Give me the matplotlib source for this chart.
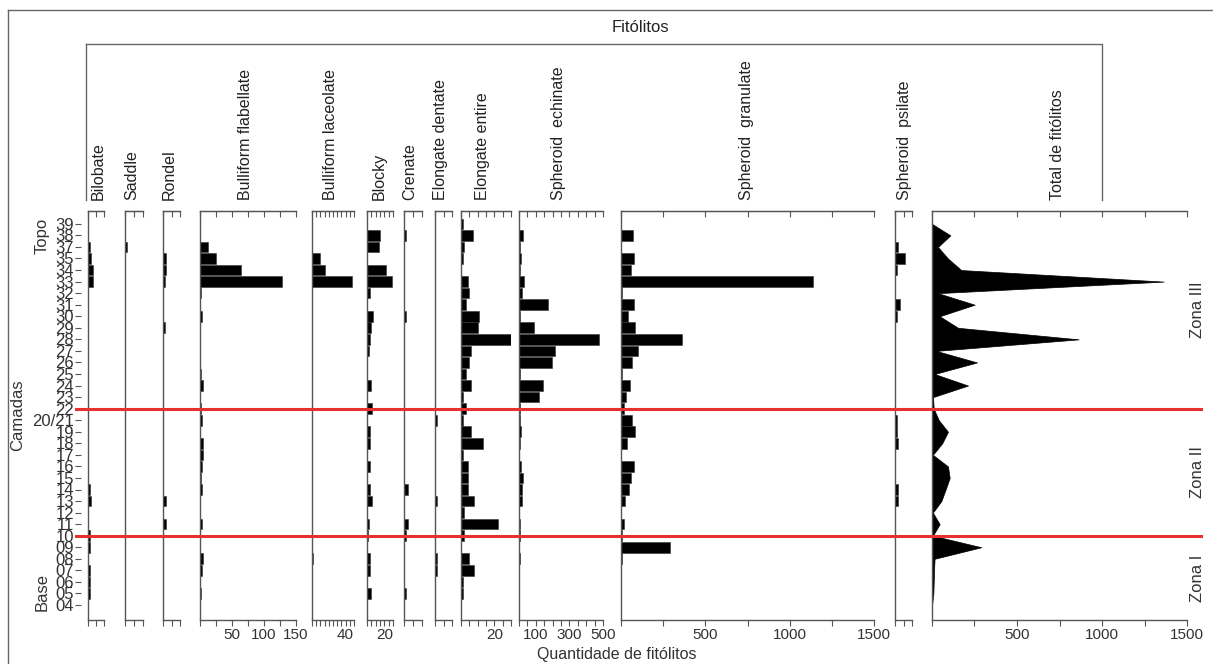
import numpy as np
import matplotlib.pyplot as plt
from matplotlib.lines import Line2D

plt.rcParams['font.family'] = ['Liberation Sans', 'DejaVu Sans']

# layers, bottom (Base) to top (Topo)
camadas = ['04', '05', '06', '07', '08', '09', '10', '11', '12', '13', '14', '15',
           '16', '17', '18', '19', '20/21', '22', '23', '24', '25', '26', '27', '28',
           '29', '30', '31', '32', '33', '34', '35', '37', '38', '39']

#            04 05 06 07 08 09 10 11 12 13 14 15 16 17 18 19 2021 22 23 24 25 26 27 28 29 30 31 32 33 34 35 37 38 39
bilobate   = [0, 1, 1, 1, 0, 1, 1, 0, 0, 2, 1, 0, 0, 0, 0, 0, 0, 0, 0, 0, 0, 0, 0, 0, 0, 0, 0, 0, 3, 3, 2, 1, 0, 0]
saddle     = [0, 0, 0, 0, 0, 0, 0, 0, 0, 0, 0, 0, 0, 0, 0, 0, 0, 0, 0, 0, 0, 0, 0, 0, 0, 0, 0, 0, 0, 0, 0, 1, 0, 0]
rondel     = [0, 0, 0, 0, 0, 0, 0, 2, 0, 2, 0, 0, 0, 0, 0, 0, 0, 0, 0, 0, 0, 0, 0, 0, 1, 0, 0, 0, 1, 2, 2, 0, 0, 0]
bull_flab  = [0, 1, 0, 3, 4, 0, 0, 3, 0, 0, 3, 1, 3, 4, 4, 0, 3, 2, 0, 4, 1, 0, 0, 0, 0, 3, 0, 1, 128, 64, 25, 13, 0, 0]
bull_lac   = [0, 0, 0, 0, 1, 0, 0, 0, 0, 0, 0, 0, 0, 0, 0, 0, 0, 0, 0, 0, 0, 0, 0, 0, 0, 0, 0, 0, 48, 15, 10, 0, 0, 0]
blocky     = [0, 5, 0, 4, 3, 0, 1, 2, 0, 6, 4, 0, 4, 0, 3, 3, 0, 6, 0, 5, 0, 0, 2, 4, 5, 7, 0, 3, 29, 22, 0, 14, 15, 0]
crenate    = [0, 1, 0, 0, 0, 0, 1, 2, 0, 0, 2, 0, 0, 0, 0, 0, 0, 0, 0, 0, 0, 0, 0, 0, 0, 1, 0, 0, 0, 0, 0, 0, 1, 0]
elong_dent = [0, 0, 0, 1, 1, 0, 0, 0, 0, 1, 0, 0, 0, 0, 0, 0, 1, 0, 0, 0, 0, 0, 0, 0, 0, 0, 0, 0, 0, 0, 0, 0, 0, 0]
elong_ent  = [0, 1, 1, 8, 5, 0, 2, 22, 2, 8, 4, 4, 4, 1, 13, 6, 1, 3, 1, 6, 3, 5, 6, 30, 10, 11, 3, 5, 4, 0, 1, 2, 7, 1]
sph_echin  = [0, 0, 0, 0, 6, 0, 6, 6, 0, 16, 16, 26, 10, 0, 6, 10, 6, 6, 121, 145, 6, 198, 214, 478, 89, 6, 175, 20, 30, 6, 12, 6, 22, 0]
sph_gran   = [0, 0, 0, 0, 4, 290, 4, 16, 0, 26, 46, 62, 75, 0, 34, 81, 65, 16, 30, 56, 6, 65, 101, 359, 81, 40, 75, 6, 1137, 62, 75, 0, 71, 0]
sph_psil   = [0, 0, 0, 0, 0, 0, 0, 0, 0, 2, 2, 0, 0, 0, 2, 1, 1, 0, 0, 0, 0, 0, 0, 0, 0, 1, 3, 0, 0, 1, 6, 2, 0, 0]
total      = [0, 8, 10, 12, 15, 290, 5, 45, 5, 55, 80, 104, 94, 5, 60, 94, 40, 10, 6, 212, 15, 265, 25, 863, 153, 45, 251, 35, 1363, 172, 94, 35, 108, 0]

W, H = 1213, 664
fig = plt.figure(figsize=(W / 100, H / 100), dpi=100)

y = np.arange(len(camadas))
top_px, bot_px = 211, 620
y0_px, step_px = 605, 11.55
ylim = ((y0_px - bot_px) / step_px, (y0_px - top_px) / step_px)
ax_b = 1 - bot_px / H
ax_h = (bot_px - top_px) / H
gray = '#555555'

# (name, values, left px, right px, xmax, ticks, labelled ticks, header x)
panels = [
    ('Bilobate', bilobate, 88, 104, 10, [0, 5, 10], [], 98),
    ('Saddle', saddle, 125, 143, 10, [0, 5, 10], [], 132),
    ('Rondel', rondel, 163, 180, 10, [0, 5, 10], [], 169),
    ('Bulliform flabellate', bull_flab, 200, 296, 150, range(0, 151, 25), [50, 100, 150], 246),
    ('Bulliform laceolate', bull_lac, 312, 354, 50, range(0, 51, 5), [40], 331),
    ('Blocky', blocky, 367, 393, 30, range(0, 31, 5), [20], 379),
    ('Crenate', crenate, 404, 422, 10, [0, 5, 10], [], 410),
    ('Elongate dentate', elong_dent, 435, 452, 10, [0, 5, 10], [], 440),
    ('Elongate entire', elong_ent, 461, 511, 30, range(0, 31, 5), [20], 482),
    ('Spheroid  echinate', sph_echin, 519, 603, 500, range(0, 501, 50), [100, 300, 500], 559),
    ('Spheroid  granulate', sph_gran, 621, 874, 1500, range(0, 1501, 250), [500, 1000, 1500], 746),
    ('Spheroid  psilate', sph_psil, 895, 912, 10, [0, 5, 10], [], 905),
    ('Total de fitólitos', total, 932, 1187, 1500, range(0, 1501, 250), [500, 1000, 1500], 1057),
]

for name, vals, lpx, rpx, xmax, ticks, labelled, hx in panels:
    ax = fig.add_axes([lpx / W, ax_b, (rpx - lpx) / W, ax_h])
    if name.startswith('Total'):
        ax.fill_betweenx(y, 0, vals, color='black', lw=0.5)
    else:
        ax.barh(y, vals, height=0.92, color='black', edgecolor='#333333', linewidth=0.4)
    ax.set_xlim(0, xmax)
    ax.set_ylim(*ylim)
    ax.spines['right'].set_visible(False)
    for s in ('left', 'top', 'bottom'):
        ax.spines[s].set_color(gray)
        ax.spines[s].set_linewidth(1.0)
    ax.set_yticks([])
    ticks = list(ticks)
    ax.set_xticks(ticks)
    ax.set_xticklabels([str(t) if t in labelled else '' for t in ticks])
    ax.tick_params(axis='x', direction='out', length=4, width=0.8, color=gray,
                   labelsize=11, pad=2, labelcolor='#333333')
    sec = ax.secondary_xaxis('top')
    sec.set_xticks(ticks)
    sec.set_xticklabels([])
    sec.tick_params(direction='in', length=4, width=0.8, color=gray)
    sec.spines['top'].set_color(gray)
    fig.text(hx / W, 1 - 200 / H, name, rotation=90, ha='center', va='bottom',
             fontsize=11.5, color='#222222')

# layer axis (tick marks and labels only)
ay = fig.add_axes([81 / W, ax_b, 1 / W, ax_h])
ay.set_ylim(*ylim)
ay.set_yticks(y)
ay.set_yticklabels(camadas, fontsize=12, color='#333333')
ay.tick_params(axis='y', length=4, width=0.8, color=gray, pad=1)
ay.set_xticks([])
for s in ay.spines.values():
    s.set_visible(False)

# zone boundaries
ar = fig.add_axes([75 / W, ax_b, (1203 - 75) / W, ax_h])
ar.set_ylim(*ylim)
ar.axis('off')
ar.patch.set_alpha(0)
for lay in ['22', '10']:
    ar.axhline(camadas.index(lay), color='#e8312f', lw=2.2)

# frame and header box
fig.add_artist(Line2D([8 / W, 1], [1 - 10 / H, 1 - 10 / H], color='#666666', lw=1))
fig.add_artist(Line2D([8 / W, 8 / W], [0, 1 - 10 / H], color='#666666', lw=1))
fig.add_artist(Line2D([86 / W, 1102 / W, 1102 / W], [1 - 44 / H] * 2 + [1 - 200 / H],
                      color='#666666', lw=1))
fig.add_artist(Line2D([86 / W, 86 / W], [1 - 44 / H, 1 - 200 / H], color='#666666', lw=1))

fig.text(640 / W, 1 - 27 / H, 'Fitólitos', ha='center', va='center', fontsize=12, color='#222222')
fig.text(617 / W, 1 - 655 / H, 'Quantidade de fitólitos', ha='center', va='center',
         fontsize=11.5, color='#333333')
fig.text(18 / W, 1 - 415 / H, 'Camadas', rotation=90, ha='center', va='center',
         fontsize=12, color='#333333')
fig.text(42 / W, 1 - 236 / H, 'Topo', rotation=90, ha='center', va='center',
         fontsize=12, color='#333333')
fig.text(42 / W, 1 - 592 / H, 'Base', rotation=90, ha='center', va='center',
         fontsize=12, color='#333333')
for txt, yy in [('Zona III', 310), ('Zona II', 472), ('Zona I', 578)]:
    fig.text(1197 / W, 1 - yy / H, txt, rotation=90, ha='center', va='center',
             fontsize=12, color='#333333')

fig.savefig('out.png', dpi=100)
